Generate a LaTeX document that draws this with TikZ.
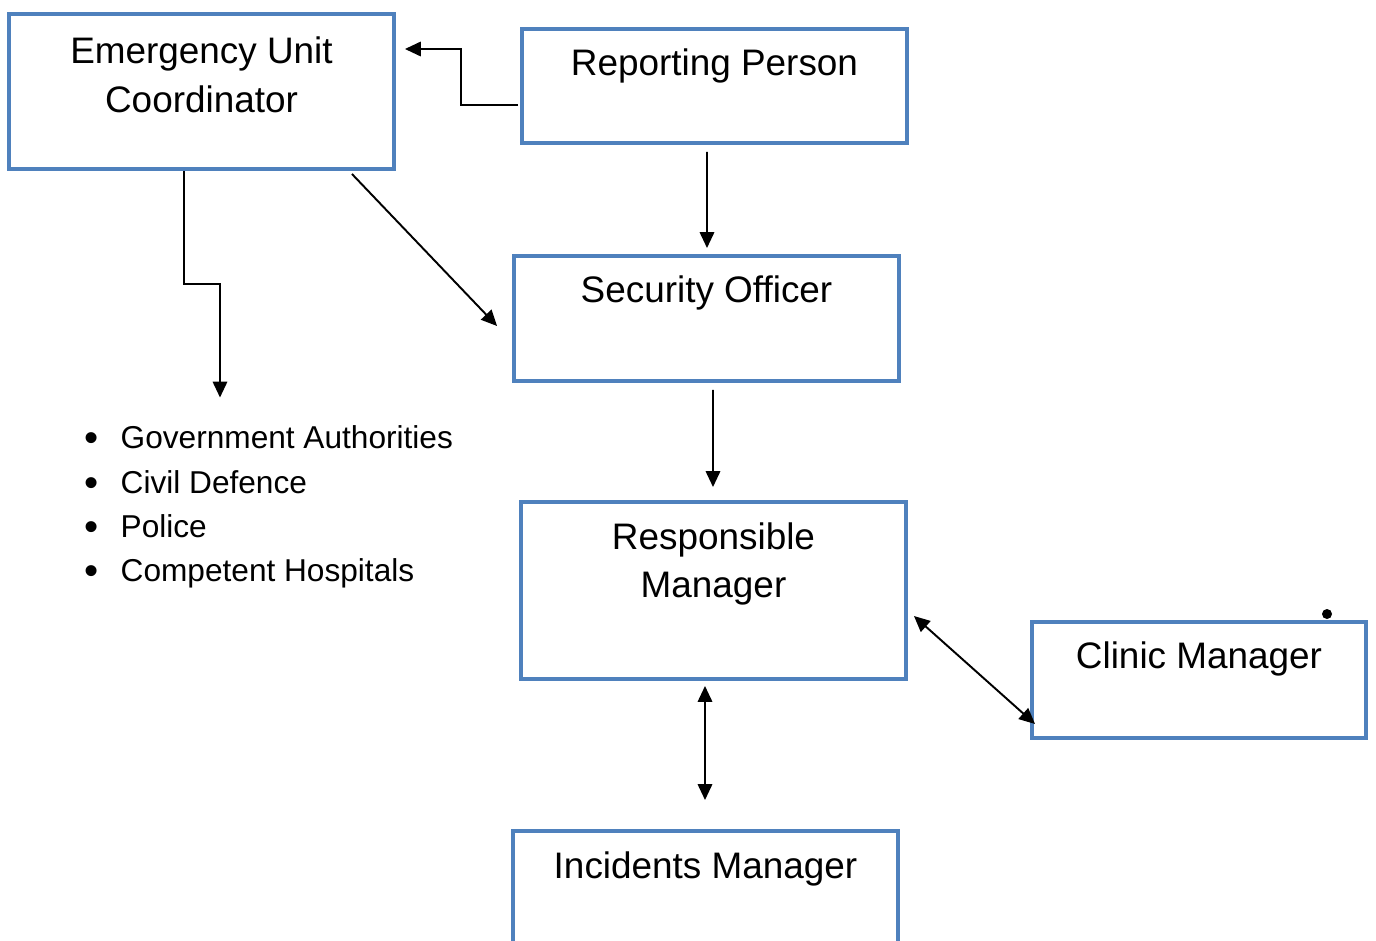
\documentclass[tikz,border=0pt]{standalone}
\usepackage{fontspec}
\setmainfont{Liberation Sans}
\usetikzlibrary{positioning,arrows.meta}

\definecolor{boxblue}{RGB}{79,129,189}

\newcommand{\bul}{\makebox[6.3pt][c]{\raisebox{-1.8pt}{\fontsize{23}{0}\selectfont\textbullet}}\hspace{13.6pt}}

\tikzset{
  box/.style={draw=boxblue, line width=2.27pt, inner sep=0pt, outer sep=0pt, minimum width=7.7cm},
  boxtext/.style={inner sep=0pt, align=center, font=\fontsize{21}{27.8}\selectfont},
  arr/.style={line width=1.1pt, -{Triangle[length=9pt, width=8.2pt]}},
  dblarr/.style={line width=1.1pt, {Triangle[length=9pt, width=8.2pt]}-{Triangle[length=9pt, width=8.2pt]}},
}

\begin{document}
\begin{tikzpicture}[x=0.02cm, y=-0.02cm]

\useasboundingbox (0,0) rectangle (1376,940);
\clip (0,0) rectangle (1376,940);

% boxes
\node [box, minimum height=3.1cm] (euc) at (201.5,91.5) {};
\node [box, minimum height=2.28cm] (rp) at (714.5,86) {};
\node [box, minimum height=2.5cm] (so) at (706.5,318.5) {};
\node [box, minimum height=3.54cm] (rm) at (713.5,590.5) {};
\node [box, minimum width=6.68cm, minimum height=2.32cm] (cm) at (1199,680) {};
\node [box, minimum height=2.5cm] (im) at (705.5,893.5) {};

% texts at the top of the boxes
\node [boxtext] (eucText) at ([shift={(0,61)}]euc.north) {Emergency Unit\\Coordinator};
\node [boxtext] (rpText) at ([shift={(0,37)}]rp.north) {Reporting Person};
\node [boxtext] (soText) at ([shift={(0,37)}]so.north) {Security Officer};
\node [boxtext] (rmText) at ([shift={(0,62)}]rm.north) {Responsible\\Manager};
\node [boxtext] (cmText) at ([shift={(0,37)}]cm.north) {Clinic Manager};
\node [boxtext] (imText) at ([shift={(0,38)}]im.north) {Incidents Manager};

% list of outside bodies
\node [inner sep=0pt, align=left, anchor=west, font=\fontsize{18}{25.2}\selectfont] (list) at (85.4,507)
  {\bul Government Authorities\\
   \bul Civil Defence\\
   \bul Police\\
   \bul Competent Hospitals};

% stray dot
\node [circle, fill=black, inner sep=0pt, minimum size=5.7pt] (dot) at (1327,614) {};

% connectors
\draw [arr] ([shift={(-4,19)}]rp.west) -- ++(-57,0) |- ([shift={(11,-42.5)}]euc.east);
\draw [arr] ([shift={(-7.5,9)}]rp.south) -- ([shift={(0.5,-8)}]so.north);
\draw [arr] ([shift={(-42,5)}]euc.south east) -- ([shift={(-17,7.5)}]so.west);
\draw [arr] ([shift={(-17.5,2)}]euc.south) -- ++(0,113) -| ([shift={(134.6,-28)}]list.north west);
\draw [arr] ([shift={(6.5,9)}]so.south) -- ([shift={(-0.5,-15)}]rm.north);
\draw [dblarr] ([shift={(-8.5,7)}]rm.south) -- ([shift={(-0.5,-31)}]im.north);
\draw [dblarr] ([shift={(8,25.5)}]rm.east) -- ([shift={(3,-14)}]cm.south west);

\end{tikzpicture}
\end{document}
